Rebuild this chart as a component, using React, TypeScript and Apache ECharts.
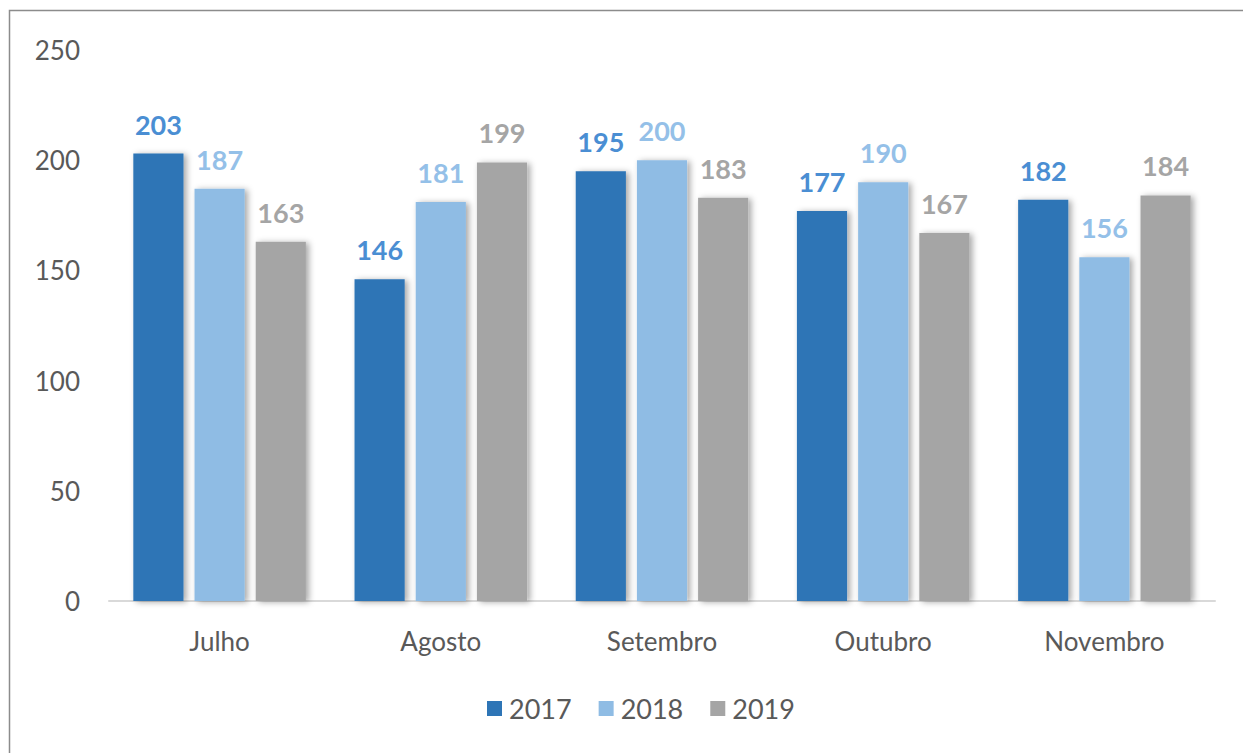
import React, { useEffect, useRef } from "react";
import * as echarts from "echarts";

const categories = ["Julho", "Agosto", "Setembro", "Outubro", "Novembro"];
const seriesNames = ["2017", "2018", "2019"];
const values2017 = [203, 146, 195, 177, 182];
const values2018 = [187, 181, 200, 190, 156];
const values2019 = [163, 199, 183, 167, 184];
const yTicks = { min: 0, max: 250, interval: 50 };

const barColors = ["#2E75B6", "#8FBCE4", "#A5A5A5"];
const labelColors = ["#4A8ED3", "#94C0E8", "#A5A5A5"];
const FONT = "Lato";

export default function App() {
  const ref = useRef<HTMLDivElement>(null);
  useEffect(() => {
    if (!ref.current) return;
    const chart = echarts.init(ref.current, undefined, { renderer: "svg" });
    const data = [values2017, values2018, values2019];
    chart.setOption({
      animation: false,
      textStyle: { fontFamily: FONT },
      graphic: [
        {
          type: "rect",
          shape: { x: 9.5, y: 10.5, width: 1300, height: 800 },
          style: { fill: "none", stroke: "#8C8C8C", lineWidth: 1.5 },
          silent: true,
        },
      ],
      grid: { left: 109, right: 28, top: 50, bottom: 152 },
      legend: {
        bottom: 26,
        left: 482,
        itemWidth: 15,
        itemHeight: 15,
        itemGap: 27,
        icon: "rect",
        textStyle: { fontSize: 27, color: "#595959", fontFamily: FONT, padding: [0, 0, 0, 2] },
        data: seriesNames,
      },
      xAxis: {
        type: "category",
        data: categories,
        axisLine: { lineStyle: { color: "#D9D9D9", width: 2 } },
        axisTick: { show: false },
        axisLabel: { fontSize: 26, color: "#595959", margin: 27, fontFamily: FONT },
      },
      yAxis: {
        type: "value",
        min: yTicks.min,
        max: yTicks.max,
        interval: yTicks.interval,
        axisLine: { show: false },
        axisTick: { show: false },
        splitLine: { show: false },
        axisLabel: { fontSize: 26, color: "#595959", margin: 29, fontFamily: FONT },
      },
      series: seriesNames.map((name, i) => ({
        name,
        type: "bar",
        data: data[i],
        barGap: "22%",
        barCategoryGap: "22%",
        itemStyle: {
          color: barColors[i],
          shadowColor: "rgba(0,0,0,0.35)",
          shadowBlur: 6,
          shadowOffsetX: 3,
          shadowOffsetY: 1,
        },
        label: {
          show: true,
          position: "top",
          distance: 16,
          fontSize: 27,
          fontWeight: "bold",
          color: labelColors[i],
          fontFamily: FONT,
        },
      })),
    });
    return () => chart.dispose();
  }, []);
  return (
    <div
      ref={ref}
      style={{ position: "fixed", left: 0, top: 0, width: 1243, height: 753, background: "#fff" }}
    />
  );
}
